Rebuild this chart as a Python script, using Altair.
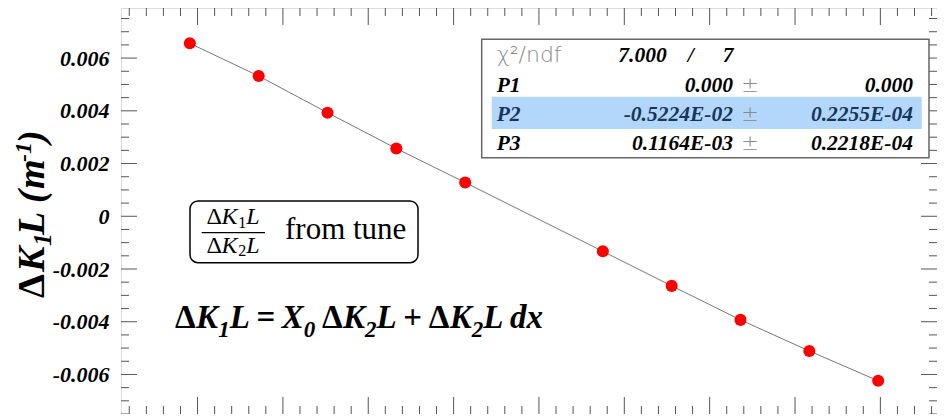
import altair as alt
import numpy as np
import pandas as pd

# ---- data ----
dk2l = [-1.25, -1.0, -0.75, -0.5, -0.25, 0.25, 0.5, 0.75, 1.0, 1.25]
dk1l = [0.00656, 0.00532, 0.00393, 0.00257, 0.00128,
        -0.00133, -0.00264, -0.00393, -0.00511, -0.00624]

y_major = [-0.006, -0.004, -0.002, 0.0, 0.002, 0.004, 0.006]
y_minor = [v / 10000 for v in range(-75, 80, 5) if v % 20 != 0]
x_major = [-1.222, -0.912, -0.602, -0.292, 0.018, 0.328, 0.638, 0.948, 1.258]
x_step = 0.310
x_minor = [round(m + k * x_step / 5, 4) for m in [x_major[0] - x_step] + x_major for k in range(1, 5)]

par_names = ["P1", "P2", "P3"]
par_values = ["0.000", "-0.5224E-02", "0.1164E-03"]
par_errors = ["0.000", "0.2255E-04", "0.2218E-04"]
chi2_text = ["7.000", "/", "7"]

W, H = 816, 406
PX_PER_UNIT = 275.33
XD = [-1.5, -1.5 + W / PX_PER_UNIT]
YD = [-0.0075, 0.0079]
SERIF = "Liberation Serif"

x_minor = [v for v in x_minor if XD[0] < v < XD[1]]
x_major = [v for v in x_major if XD[0] < v < XD[1]]

df = pd.DataFrame({"x": dk2l, "y": dk1l})
one = pd.DataFrame({"k": [0]})

xs = alt.Scale(domain=XD, nice=False, zero=False)
ys = alt.Scale(domain=YD, nice=False, zero=False)

yaxis = alt.Axis(values=y_major, ticks=False, tickSize=0, domain=False, grid=False,
                 labelPadding=12, labelFont=SERIF, labelFontSize=22, labelFontStyle="italic",
                 labelFontWeight="bold", labelColor="black", title=None,
                 labelExpr="datum.value == 0 ? '0' : (datum.value < 0 ? '-' : '') + format(abs(datum.value), '.3f')")

base = alt.Chart(df)
line = base.mark_line(color="#777777", strokeWidth=1).encode(
    x=alt.X("x:Q", scale=xs, axis=None),
    y=alt.Y("y:Q", scale=ys, axis=yaxis),
)
pts = base.mark_circle(color="#ff0000", opacity=1, size=145).encode(
    x=alt.X("x:Q", scale=xs), y=alt.Y("y:Q", scale=ys))

layers = [line, pts]

# ticks on the four sides, inside the frame
def yticks(vals, length):
    d = pd.DataFrame({"v": vals})
    l = alt.Chart(d).mark_rule(color="#555555", strokeWidth=1).encode(
        y=alt.Y("v:Q", scale=ys), x=alt.value(0), x2=alt.value(length))
    r = alt.Chart(d).mark_rule(color="#555555", strokeWidth=1).encode(
        y=alt.Y("v:Q", scale=ys), x=alt.value(W - length), x2=alt.value(W))
    return [l, r]

def xticks(vals, length):
    d = pd.DataFrame({"v": vals})
    t = alt.Chart(d).mark_rule(color="#555555", strokeWidth=1).encode(
        x=alt.X("v:Q", scale=xs), y=alt.value(0), y2=alt.value(length))
    b = alt.Chart(d).mark_rule(color="#555555", strokeWidth=1).encode(
        x=alt.X("v:Q", scale=xs), y=alt.value(H - length), y2=alt.value(H))
    return [t, b]

layers += yticks(y_major, 16) + yticks(y_minor, 8) + xticks(x_major, 17) + xticks(x_minor, 8)

def txt(text, x, y, size=20, align="left", font=SERIF, style="italic", weight="bold",
        color="black", angle=0, baseline="alphabetic"):
    kw = dict(text=text, align=align, baseline=baseline, font=font, fontSize=size,
              fontStyle=style, fontWeight=weight, color=color)
    if angle:
        kw["angle"] = angle
    return alt.Chart(one).mark_text(**kw).encode(x=alt.value(x), y=alt.value(y))

# ---- y title, rotated, built from pieces (page coords minus plot origin 121,8) ----
TX = 43.5 - 121          # baseline of the rotated title
TS = 38
title_parts = [  # text, start y (page), size, style, baseline shift (+ = lower)
    ("Δ", 298, TS, "normal", 0),
    ("K", 272, TS, "italic", 0),
    ("1", 246, 26, "italic", 7),
    ("L", 235, TS, "italic", 0),
    ("(", 203, TS, "italic", 0),
    ("m", 189, TS, "italic", 0),
    ("-1", 162, 24, "italic", -13),
    (")", 143, TS, "italic", 0),
]
for t, yp, sz, st, sh in title_parts:
    layers.append(txt(t, TX + sh, yp - 8, size=sz, style=st, angle=270))

# ---- stats box ----
layers.append(alt.Chart(one).mark_rect(fill="white", stroke="#666666", strokeWidth=1.5).encode(
    x=alt.value(360.7), x2=alt.value(808), y=alt.value(31.3), y2=alt.value(149.7)))
layers.append(alt.Chart(one).mark_rect(fill="#b3d6fb", stroke=None).encode(
    x=alt.value(370.7), x2=alt.value(800.7), y=alt.value(88.7), y2=alt.value(121)))
layers.append(txt("χ²/ndf", 375.7, 54, size=22, font="DejaVu Sans", style="normal",
                  weight=200, color="#8a8a8a"))
layers.append(txt(chi2_text[0], 545.7, 54, size=21.5, align="right"))
layers.append(txt(chi2_text[1], 569.7, 54, size=21.5, align="center"))
layers.append(txt(chi2_text[2], 607, 54, size=21.5, align="center"))
for i, (n, v, e) in enumerate(zip(par_names, par_values, par_errors)):
    yb = [83.7, 112.7, 142][i]
    col = "#16365a" if i == 1 else "black"
    layers.append(txt(n, 375.7, yb, size=21.5, color=col))
    layers.append(txt(v, 612, yb, size=21.5, align="right", color=col))
    layers.append(txt("±", 629, yb, size=21, align="center", style="normal", weight=200,
                      color="#8a8a8a", font="DejaVu Sans"))
    layers.append(txt(e, 792, yb, size=21.5, align="right", color=col))

# ---- fraction box ----
layers.append(alt.Chart(one).mark_rect(fill="white", stroke="black", strokeWidth=1.5,
                                       cornerRadius=8).encode(
    x=alt.value(190 - 121), x2=alt.value(418 - 121), y=alt.value(201 - 8), y2=alt.value(262.7 - 8)))
FS, FSS = 24, 16
frac_em = [("Δ", 0.62, "normal", FS, 0), ("K", 0.70, "italic", FS, 0),
           ("#", 0.5, "normal", FSS, 3.5), ("L", 0.58, "italic", FS, 0)]
frac_w = sum(w * s for _, w, _, s, _ in frac_em)
for base_y, sub in [(224.3, "1"), (252.7, "2")]:
    fx = 233.3 - 121 - frac_w / 2
    for t, w, st, s, sh in frac_em:
        layers.append(txt(sub if t == "#" else t, fx, base_y - 8 + sh, size=s, style=st,
                          weight="normal"))
        fx += w * s
layers.append(alt.Chart(one).mark_rule(color="black", strokeWidth=1.2).encode(
    x=alt.value(201.7 - 121), x2=alt.value(265 - 121), y=alt.value(232.7 - 8)))
layers.append(txt("from tune", 285 - 121, 239.3 - 8, size=31, style="normal", weight="normal"))

# ---- formula, laid out piece by piece ----
S, SS = 33, 23
EM = {"Δ": 0.64, "K": 0.667, "L": 0.611, "X": 0.667, "=": 0.57, "+": 0.57,
      "0": 0.5, "1": 0.5, "2": 0.5, "dx": 1.0, " ": 0.2}
formula = [("Δ", "d"), ("K", "m"), ("1", "s"), ("L", "m"), (" ", "m"), ("=", "o"), (" ", "m"),
           ("X", "m"), ("0", "s"), (" ", "m"), ("Δ", "d"), ("K", "m"), ("2", "s"), ("L", "m"),
           (" ", "m"), ("+", "o"), (" ", "m"), ("Δ", "d"), ("K", "m"), ("2", "s"), ("L", "m"),
           (" ", "m"), ("dx", "m")]
fx = 175 - 121
FB = 328 - 8
for t, k in formula:
    size = SS if k == "s" else S
    if t != " ":
        layers.append(txt(t, fx, FB + (9 if k == "s" else 0), size=size,
                          style="normal" if k in ("d", "o") else "italic"))
    fx += EM[t] * size

chart = alt.layer(*layers).properties(
    width=W, height=H,
    autosize=alt.AutoSizeParams(type="none"),
    padding={"left": 113, "top": 0, "right": 0, "bottom": 0},
).configure_view(stroke="#222222", strokeWidth=1.5).configure(background="white")

chart.save("out.html", embed_options={"renderer": "svg", "actions": False})
